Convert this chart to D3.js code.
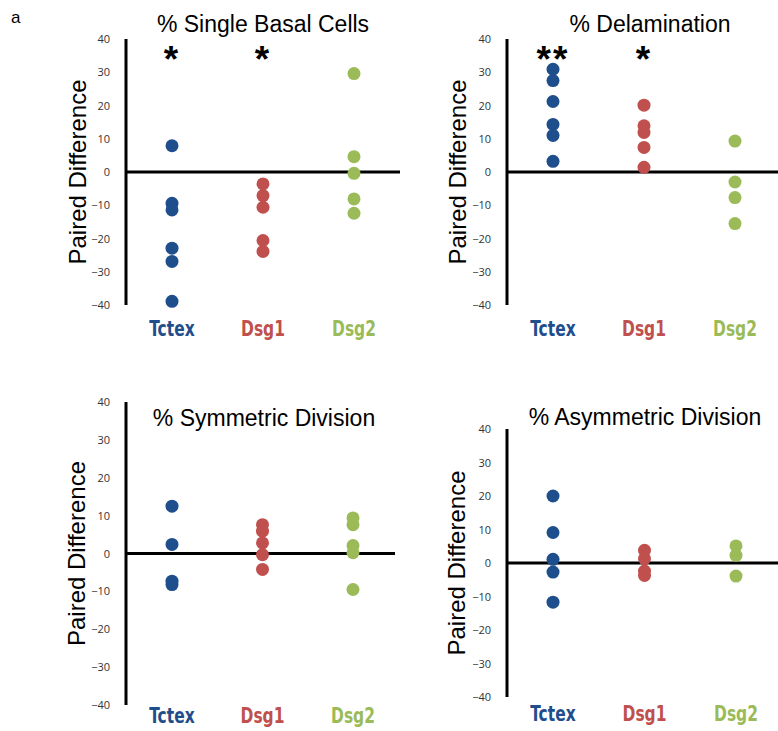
<!DOCTYPE html>
<html>
<head>
<meta charset="utf-8">
<script src="https://cdn.jsdelivr.net/npm/d3@7"></script>
<style>
  body { margin: 0; background: #fff; }
  svg { display: block; }
</style>
</head>
<body>
<div id="chart"></div>
<script>
// categories + tick labels
var categories = ["Tctex", "Dsg1", "Dsg2"];
var tickValues = [40, 30, 20, 10, 0, -10, -20, -30, -40];
var catColors = ["#1f4e8c", "#c0504d", "#9bbb59"];

// paired differences, one list per group
var singleBasal = [
  [7.9, -9.4, -11.4, -22.9, -26.9, -38.9],
  [-3.6, -7.1, -10.6, -20.6, -23.9],
  [29.6, 4.6, -0.4, -8.1, -12.4]
];
var delamination = [
  [30.9, 27.5, 21.2, 14.3, 11, 3.2],
  [20.1, 13.9, 11.9, 7.4, 1.4],
  [9.3, -3, -7.7, -15.5]
];
var symmetric = [
  [12.5, 2.4, -7.3, -8.2],
  [7.6, 5.9, 2.8, -0.3, -4.2],
  [9.4, 7.6, 2.1, 0.2, -9.5]
];
var asymmetric = [
  [20, 9.1, 1.1, -2.7, -11.7],
  [3.8, 1.3, -2.4, -3.7],
  [5.1, 2.3, -3.9]
];

var titles = ["% Single Basal Cells", "% Delamination", "% Symmetric Division", "% Asymmetric Division"];
var stars = [["*", "*", ""], ["**", "*", ""], ["", "", ""], ["", "", ""]];
var panelData = [singleBasal, delamination, symmetric, asymmetric];

// where each panel sits on the page
var layout = [
  {axisX: 126, top: 39,  bottom: 305, lineEnd: 400, cat0: 172, cat2: 354, titleX: 263, titleY: 32,  labX: 78,  catY: 336},
  {axisX: 507, top: 39,  bottom: 305, lineEnd: 778, cat0: 553, cat2: 735, titleX: 650, titleY: 32,  labX: 458, catY: 336},
  {axisX: 126, top: 402, bottom: 705, lineEnd: 395, cat0: 172, cat2: 353, titleX: 264, titleY: 426, labX: 77,  catY: 723},
  {axisX: 507, top: 429, bottom: 697, lineEnd: 778, cat0: 553, cat2: 736, titleX: 645, titleY: 425, labX: 457, catY: 721}
];

var width = 778, height = 731;
var svg = d3.select("#chart").append("svg")
  .attr("width", width)
  .attr("height", height);

svg.append("text")
  .attr("x", 11).attr("y", 23)
  .attr("font-family", "Liberation Sans, Arial, sans-serif")
  .attr("font-size", 17)
  .text("a");

layout.forEach(function(p, i) {
  var g = svg.append("g");
  var y = d3.scaleLinear().domain([-40, 40]).range([p.bottom, p.top]);
  var x = d3.scalePoint().domain(categories).range([p.cat0, p.cat2]);

  // y axis: tick labels only, line drawn separately (thick)
  var axis = d3.axisLeft(y).tickValues(tickValues).tickSize(0).tickPadding(16);
  var ag = g.append("g")
    .attr("transform", "translate(" + p.axisX + ",0)")
    .call(axis);
  ag.select(".domain").remove();
  ag.attr("font-family", "Open Sans, Liberation Sans, sans-serif")
    .attr("font-size", 11);
  ag.selectAll("text").attr("fill", "#333");

  g.append("line")
    .attr("x1", p.axisX).attr("x2", p.axisX)
    .attr("y1", p.top).attr("y2", p.bottom)
    .attr("stroke", "#000").attr("stroke-width", 3);

  g.append("line")
    .attr("x1", p.axisX).attr("x2", p.lineEnd)
    .attr("y1", y(0)).attr("y2", y(0))
    .attr("stroke", "#000").attr("stroke-width", 3);

  // title
  g.append("text")
    .attr("x", p.titleX).attr("y", p.titleY)
    .attr("text-anchor", "middle")
    .attr("font-family", "Liberation Sans, Arial, sans-serif")
    .attr("font-size", 23)
    .text(titles[i]);

  // y label
  g.append("text")
    .attr("transform", "translate(" + (p.labX + 8) + "," + ((p.top + p.bottom) / 2) + ") rotate(-90)")
    .attr("text-anchor", "middle")
    .attr("font-family", "Liberation Sans, Arial, sans-serif")
    .attr("font-size", 24)
    .text("Paired Difference");

  // category labels (bold condensed look)
  g.selectAll(".cat")
    .data(categories)
    .enter().append("text")
    .attr("class", "cat")
    .attr("transform", function(d) { return "translate(" + x(d) + "," + p.catY + ") scale(0.82,1)"; })
    .attr("text-anchor", "middle")
    .attr("font-family", "DejaVu Sans Condensed, DejaVu Sans, sans-serif")
    .attr("font-weight", "bold")
    .attr("font-size", 21)
    .attr("fill", function(d, j) { return catColors[j]; })
    .text(function(d) { return d; });

  // dots
  var pts = [];
  panelData[i].forEach(function(vals, j) {
    vals.forEach(function(v) { pts.push({cat: categories[j], v: v, c: catColors[j]}); });
  });
  g.selectAll("circle")
    .data(pts)
    .enter().append("circle")
    .attr("cx", function(d) { return x(d.cat); })
    .attr("cy", function(d) { return y(d.v); })
    .attr("r", 6.5)
    .attr("fill", function(d) { return d.c; });

  // significance stars
  g.selectAll(".star")
    .data(stars[i])
    .enter().append("text")
    .attr("class", "star")
    .attr("x", function(d, j) { return x(categories[j]); })
    .attr("y", y(35) + 16)
    .attr("text-anchor", "middle")
    .attr("font-family", "Liberation Sans, Arial, sans-serif")
    .attr("font-weight", "bold")
    .attr("font-size", 37)
    .attr("letter-spacing", 2)
    .text(function(d) { return d; });
});
</script>
</body>
</html>
